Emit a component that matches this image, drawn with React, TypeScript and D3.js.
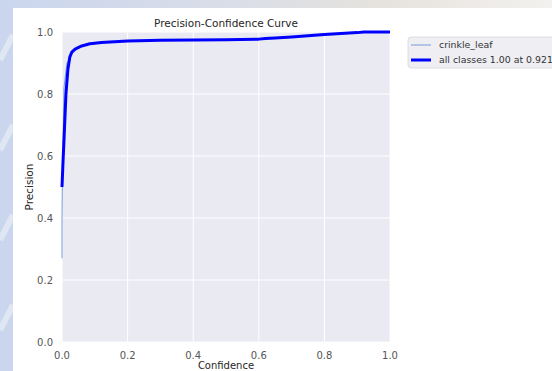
import React, { useEffect, useRef } from 'react';
import * as d3 from 'd3';

// confidence values sampled along the curve
const allConf = [0.0, 0.003, 0.006, 0.012, 0.018, 0.024, 0.03, 0.04, 0.06, 0.085, 0.12, 0.2, 0.3, 0.4, 0.5, 0.6, 0.62, 0.65, 0.7, 0.8, 0.9, 0.921, 1.0];
const allPrec = [0.5, 0.58, 0.65, 0.8, 0.88, 0.92, 0.935, 0.945, 0.955, 0.962, 0.966, 0.971, 0.973, 0.974, 0.975, 0.977, 0.979, 0.981, 0.984, 0.992, 0.998, 1.0, 1.0];

const leafConf = [0.0, 0.0, 0.001, 0.003, 0.006, 0.015, 0.022, 0.03, 0.04, 0.06, 0.085, 0.12, 0.2, 0.3, 0.4, 0.5, 0.6, 0.62, 0.65, 0.7, 0.8, 0.9, 0.921, 1.0];
const leafPrec = [0.27, 0.4, 0.5, 0.62, 0.82, 0.9, 0.912, 0.935, 0.945, 0.955, 0.962, 0.966, 0.971, 0.973, 0.974, 0.975, 0.977, 0.979, 0.981, 0.984, 0.992, 0.998, 1.0, 1.0];

const xTicks = [0, 0.2, 0.4, 0.6, 0.8, 1.0];
const yTicks = [0, 0.2, 0.4, 0.6, 0.8, 1.0];

const legendLabels = ['crinkle_leaf', 'all classes 1.00 at 0.921'];

const App: React.FC = () => {
  const svgRef = useRef<SVGSVGElement>(null);
  const width = 552;
  const height = 371;

  useEffect(() => {
    const svg = d3.select(svgRef.current);
    svg.selectAll('*').remove();
    svg.attr('width', width).attr('height', height);

    const font = 'DejaVu Sans, sans-serif';

    // blurred backdrop peeking around the figure
    const defs = svg.append('defs');
    const bg = defs.append('linearGradient').attr('id', 'bg-grad')
      .attr('x1', '0%').attr('y1', '0%').attr('x2', '100%').attr('y2', '0%');
    bg.append('stop').attr('offset', '0%').attr('stop-color', '#cad6ee');
    bg.append('stop').attr('offset', '40%').attr('stop-color', '#d9dde8');
    bg.append('stop').attr('offset', '70%').attr('stop-color', '#e6e3de');
    bg.append('stop').attr('offset', '100%').attr('stop-color', '#f3f1ef');
    svg.append('rect').attr('width', width).attr('height', height).attr('fill', 'url(#bg-grad)');
    const streaks = [60, 150, 240, 330];
    streaks.forEach(s => {
      svg.append('line')
        .attr('x1', 0).attr('y1', s).attr('x2', 13).attr('y2', s - 25)
        .attr('stroke', '#eef1f8').attr('stroke-width', 6).attr('opacity', 0.6);
    });

    // white figure panel
    svg.append('rect').attr('x', 13).attr('y', 8)
      .attr('width', width - 13).attr('height', height - 8).attr('fill', '#ffffff');

    const margin = { left: 62, top: 32, right: 390, bottom: 342 };
    const x = d3.scaleLinear().domain([0, 1]).range([margin.left, margin.right]);
    const y = d3.scaleLinear().domain([0, 1]).range([margin.bottom, margin.top]);

    svg.append('rect')
      .attr('x', margin.left).attr('y', margin.top)
      .attr('width', margin.right - margin.left).attr('height', margin.bottom - margin.top)
      .attr('fill', '#eaeaf2');

    // grid
    xTicks.forEach(t => {
      svg.append('line').attr('x1', x(t)).attr('x2', x(t))
        .attr('y1', margin.top).attr('y2', margin.bottom)
        .attr('stroke', '#ffffff').attr('stroke-width', 1);
    });
    yTicks.forEach(t => {
      svg.append('line').attr('y1', y(t)).attr('y2', y(t))
        .attr('x1', margin.left).attr('x2', margin.right)
        .attr('stroke', '#ffffff').attr('stroke-width', 1);
    });

    const clip = defs.append('clipPath').attr('id', 'plot-clip');
    clip.append('rect').attr('x', margin.left - 2).attr('y', margin.top - 2)
      .attr('width', margin.right - margin.left + 4).attr('height', margin.bottom - margin.top + 4);

    const line = d3.line<[number, number]>().x(d => x(d[0])).y(d => y(d[1]));

    const leafData = leafConf.map((c, i) => [c, leafPrec[i]] as [number, number]);
    const allData = allConf.map((c, i) => [c, allPrec[i]] as [number, number]);

    const plot = svg.append('g').attr('clip-path', 'url(#plot-clip)');
    plot.append('path').datum(leafData)
      .attr('d', line).attr('fill', 'none')
      .attr('stroke', '#7b9bd6').attr('stroke-width', 1);
    plot.append('path').datum(allData)
      .attr('d', line).attr('fill', 'none')
      .attr('stroke', '#0000ff').attr('stroke-width', 3)
      .attr('stroke-linejoin', 'round');

    // tick labels
    xTicks.forEach(t => {
      svg.append('text').attr('x', x(t)).attr('y', 359)
        .attr('text-anchor', 'middle')
        .style('font-family', font).style('font-size', '10px').style('fill', '#555555')
        .text(t.toFixed(1));
    });
    yTicks.forEach(t => {
      svg.append('text').attr('x', 53).attr('y', y(t)).attr('dy', '0.35em')
        .attr('text-anchor', 'end')
        .style('font-family', font).style('font-size', '10px').style('fill', '#555555')
        .text(t.toFixed(1));
    });

    // title and axis labels
    svg.append('text').attr('x', 226).attr('y', 27)
      .attr('text-anchor', 'middle')
      .style('font-family', font).style('font-size', '10.5px').style('fill', '#262626')
      .text('Precision-Confidence Curve');

    svg.append('text').attr('x', 226).attr('y', 369)
      .attr('text-anchor', 'middle')
      .style('font-family', font).style('font-size', '10px').style('fill', '#262626')
      .text('Confidence');

    svg.append('text')
      .attr('transform', `translate(33,187) rotate(-90)`)
      .attr('text-anchor', 'middle')
      .style('font-family', font).style('font-size', '10.5px').style('fill', '#262626')
      .text('Precision');

    // legend
    const legend = svg.append('g').attr('transform', 'translate(408,37)');
    legend.append('rect')
      .attr('width', 160).attr('height', 31).attr('rx', 3)
      .attr('fill', '#eeeef3').attr('stroke', '#d6d6dc').attr('stroke-width', 0.8);
    const legendStyles = [
      { color: '#7b9bd6', w: 1 },
      { color: '#0000ff', w: 3 }
    ];
    legendLabels.forEach((label, i) => {
      const ly = 8 + i * 15;
      legend.append('line').attr('x1', 3).attr('x2', 23).attr('y1', ly).attr('y2', ly)
        .attr('stroke', legendStyles[i].color).attr('stroke-width', legendStyles[i].w);
      legend.append('text').attr('x', 31).attr('y', ly).attr('dy', '0.35em')
        .style('font-family', font).style('font-size', '9.4px').style('fill', '#333333')
        .text(label);
    });
  }, []);

  return (
    <div style={{ position: 'absolute', left: 0, top: 0 }}>
      <svg ref={svgRef} style={{ display: 'block' }}></svg>
    </div>
  );
};

export default App;
